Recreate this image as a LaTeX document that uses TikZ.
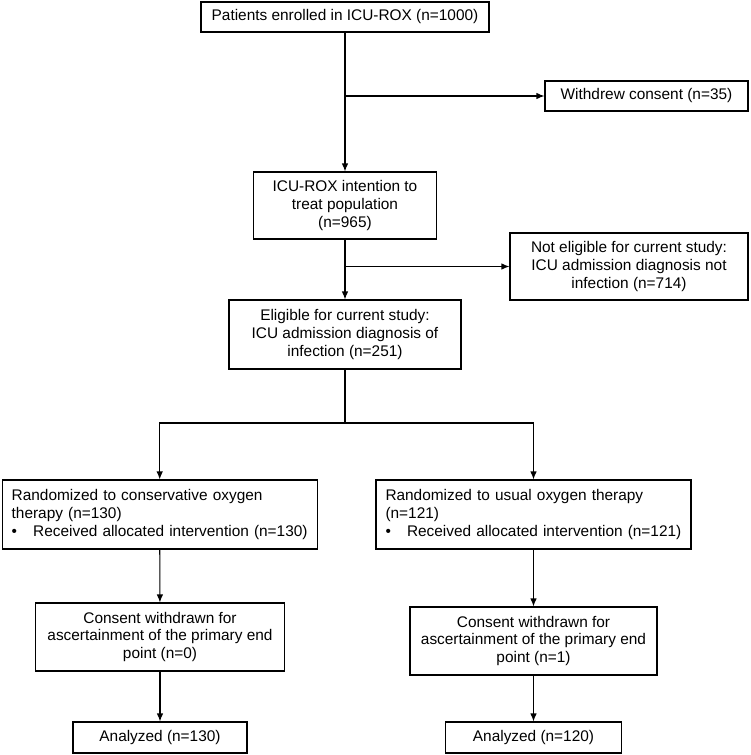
\documentclass[tikz,border=0pt]{standalone}
\usepackage{fontspec}
\setmainfont{Liberation Sans}
\usetikzlibrary{arrows.meta}
\tikzset{
  box/.style={draw, line width=1.1pt, inner sep=0pt, align=center,
    font=\fontsize{15.4}{17.7}\selectfont},
  listbox/.style={box, align=left, inner xsep=9.5pt, text width=296pt,
    minimum height=69pt},
  flow/.style={-{Latex[length=8pt,width=6.5pt]}, line width=1.1pt},
}
\newcommand{\bulletitem}{\makebox[21.5pt][l]{\textbullet}}
\begin{document}
\begin{tikzpicture}[x=1pt,y=-1pt]
  \useasboundingbox (0,0) rectangle (750,755);
  \node[box, minimum width=288pt, minimum height=30pt] (enrolled) at (345,17) {Patients enrolled in ICU-ROX (n=1000)};
  \node[box, minimum width=203pt, minimum height=30pt] (withdrew) at (646.5,96) {Withdrew consent (n=35)};
  \node[box, minimum width=183pt, minimum height=67pt] (itt) at (345,205.5) {ICU-ROX intention to\\treat population\\(n=965)};
  \node[box, minimum width=238pt, minimum height=67pt] (noteligible) at (629,266.5) {Not eligible for current study:\\ICU admission diagnosis not\\infection (n=714)};
  \node[box, minimum width=232pt, minimum height=69pt] (eligible) at (345,334.5) {Eligible for current study:\\ICU admission diagnosis of\\infection (n=251)};
  \node[listbox] (randcons) at (159.7,514.5) {Randomized to conservative oxygen\\therapy (n=130)\\\bulletitem Received allocated intervention (n=130)};
  \node[listbox] (randusual) at (533.5,514.5) {Randomized to usual oxygen therapy\\(n=121)\\\bulletitem Received allocated intervention (n=121)};
  \node[box, minimum width=249pt, minimum height=68pt] (conscons) at (160,637) {Consent withdrawn for\\ascertainment of the primary end\\point (n=0)};
  \node[box, minimum width=247pt, minimum height=68pt] (consusual) at (533.5,641) {Consent withdrawn for\\ascertainment of the primary end\\point (n=1)};
  \node[box, minimum width=174pt, minimum height=31pt] (anacons) at (160,737.5) {Analyzed (n=130)};
  \node[box, minimum width=176pt, minimum height=31pt] (anausual) at (533.5,737.5) {Analyzed (n=120)};
  \coordinate (split) at (345,423);
  \draw[flow] (enrolled) -- (itt);
  \draw[flow] (enrolled.south |- withdrew.west) -- (withdrew);
  \draw[flow] (itt) -- (eligible);
  \draw[flow] (itt.south |- noteligible.west) -- (noteligible);
  \draw[line width=1.1pt] (eligible) -- (split);
  \draw[flow] (split) -| (randcons);
  \draw[flow] (split) -| (randusual);
  \draw[flow] (randcons) -- (conscons);
  \draw[flow] (randusual) -- (consusual);
  \draw[flow] (conscons) -- (anacons);
  \draw[flow] (consusual) -- (anausual);
\end{tikzpicture}
\end{document}
